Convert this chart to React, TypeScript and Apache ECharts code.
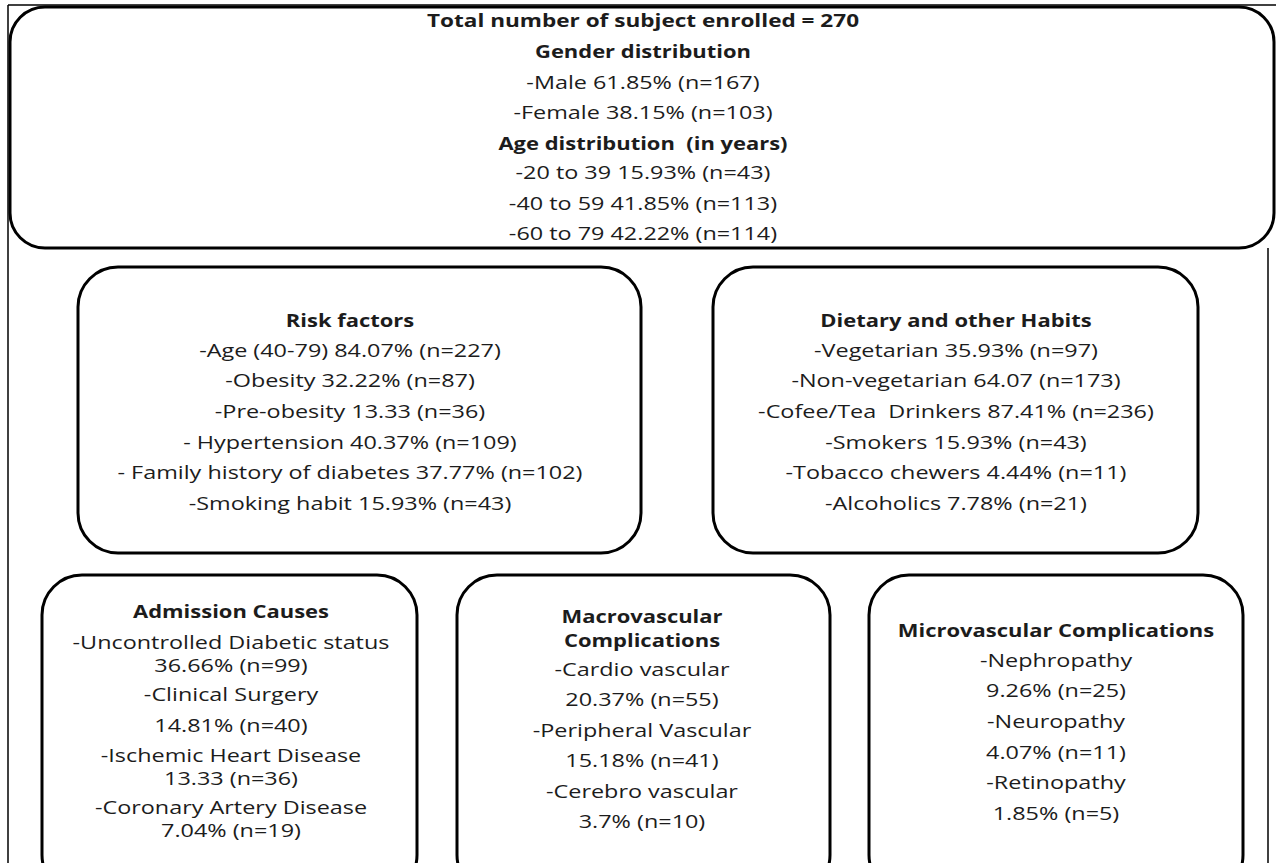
import React, { useEffect, useRef } from "react";
import * as echarts from "echarts";

const topTitle = "Total number of subject enrolled = 270";
const genderTitle = "Gender distribution";
const genderLines = ["-Male 61.85% (n=167)", "-Female 38.15% (n=103)"];
const ageTitle = "Age distribution  (in years)";
const ageLines = ["-20 to 39 15.93% (n=43)", "-40 to 59 41.85% (n=113)", "-60 to 79 42.22% (n=114)"];

const riskTitle = "Risk factors";
const riskLines = [
  "-Age (40-79) 84.07% (n=227)",
  "-Obesity 32.22% (n=87)",
  "-Pre-obesity 13.33 (n=36)",
  "- Hypertension 40.37% (n=109)",
  "- Family history of diabetes 37.77% (n=102)",
  "-Smoking habit 15.93% (n=43)",
];

const dietTitle = "Dietary and other Habits";
const dietLines = [
  "-Vegetarian 35.93% (n=97)",
  "-Non-vegetarian 64.07 (n=173)",
  "-Cofee/Tea  Drinkers 87.41% (n=236)",
  "-Smokers 15.93% (n=43)",
  "-Tobacco chewers 4.44% (n=11)",
  "-Alcoholics 7.78% (n=21)",
];

const admTitle = "Admission Causes";
const admLines = [
  "-Uncontrolled Diabetic status",
  "36.66% (n=99)",
  "-Clinical Surgery",
  "14.81% (n=40)",
  "-Ischemic Heart Disease",
  "13.33 (n=36)",
  "-Coronary Artery Disease",
  "7.04% (n=19)",
];
const admY = [642, 665, 694, 725, 755, 778, 807, 830];

const macroTitle = ["Macrovascular", "Complications"];
const macroLines = [
  "-Cardio vascular",
  "20.37% (n=55)",
  "-Peripheral Vascular",
  "15.18% (n=41)",
  "-Cerebro vascular",
  "3.7% (n=10)",
];

const microTitle = "Microvascular Complications";
const microLines = [
  "-Nephropathy",
  "9.26% (n=25)",
  "-Neuropathy",
  "4.07% (n=11)",
  "-Retinopathy",
  "1.85% (n=5)",
];

const FONT = "'Open Sans', sans-serif";
const COLOR = "#1c1c1c";
const SX_REG = 1.3;
const SX_BOLD = 1.22;

function txt(text: string, x: number, y: number, bold = false, size = 18) {
  return {
    type: "text",
    x,
    y,
    scaleX: bold ? SX_BOLD : SX_REG,
    style: {
      text,
      x: 0,
      y: 0,
      fill: COLOR,
      align: "center",
      verticalAlign: "middle",
      font: `${bold ? "bold " : ""}${size}px ${FONT}`,
    },
  };
}

function box(x: number, y: number, w: number, h: number, r: number) {
  return {
    type: "rect",
    shape: { x, y, width: w, height: h, r },
    style: { fill: "none", stroke: "#000", lineWidth: 3 },
  };
}

export default function App() {
  const ref = useRef<HTMLDivElement>(null);
  useEffect(() => {
    if (!ref.current) return;
    const chart = echarts.init(ref.current, null, { renderer: "svg" });
    const els: any[] = [];
    // outer frame lines
    els.push({ type: "line", shape: { x1: 8, y1: 5, x2: 1276, y2: 5 }, style: { stroke: "#000", lineWidth: 1.5 } });
    els.push({ type: "line", shape: { x1: 8, y1: 5, x2: 8, y2: 863 }, style: { stroke: "#000", lineWidth: 1.5 } });
    els.push({ type: "line", shape: { x1: 1268, y1: 248, x2: 1268, y2: 863 }, style: { stroke: "#000", lineWidth: 1.5 } });

    // top box
    els.push({ type: "rect", shape: { x: 10, y: 7, width: 1264, height: 241, r: 35 }, style: { fill: "#fff", stroke: "#000", lineWidth: 3 } });
    const cx = 643;
    els.push(txt(topTitle, cx, 20, true, 18.5));
    els.push(txt(genderTitle, cx, 51, true));
    genderLines.forEach((t, i) => els.push(txt(t, cx, 82 + i * 30.5, false)));
    els.push(txt(ageTitle, cx, 143, true));
    ageLines.forEach((t, i) => els.push(txt(t, cx, 172 + i * 30.7, false)));

    // risk box
    els.push(box(78, 267, 563, 286, 40));
    els.push(txt(riskTitle, 350, 320, true));
    riskLines.forEach((t, i) => els.push(txt(t, 350, 350 + i * 30.6, false)));

    // diet box
    els.push(box(713, 267, 485, 286, 40));
    els.push(txt(dietTitle, 956, 320, true));
    dietLines.forEach((t, i) => els.push(txt(t, 956, 350 + i * 30.6, false)));

    // admission box
    els.push(box(42, 575, 375, 320, 40));
    els.push(txt(admTitle, 231, 611, true));
    admLines.forEach((t, i) => els.push(txt(t, 231, admY[i], false)));

    // macro box
    els.push(box(457, 575, 373, 320, 40));
    els.push(txt(macroTitle[0], 642, 616, true));
    els.push(txt(macroTitle[1], 642, 640, true));
    macroLines.forEach((t, i) => els.push(txt(t, 642, 669 + i * 30.5, false)));

    // micro box
    els.push(box(869, 575, 374, 320, 40));
    els.push(txt(microTitle, 1056, 630, true));
    microLines.forEach((t, i) => els.push(txt(t, 1056, 660 + i * 30.6, false)));

    chart.setOption({ animation: false, graphic: { elements: els } });
    return () => chart.dispose();
  }, []);
  return (
    <div
      ref={ref}
      style={{ position: "absolute", left: 0, top: 0, width: 1276, height: 863, background: "#fff" }}
    />
  );
}
